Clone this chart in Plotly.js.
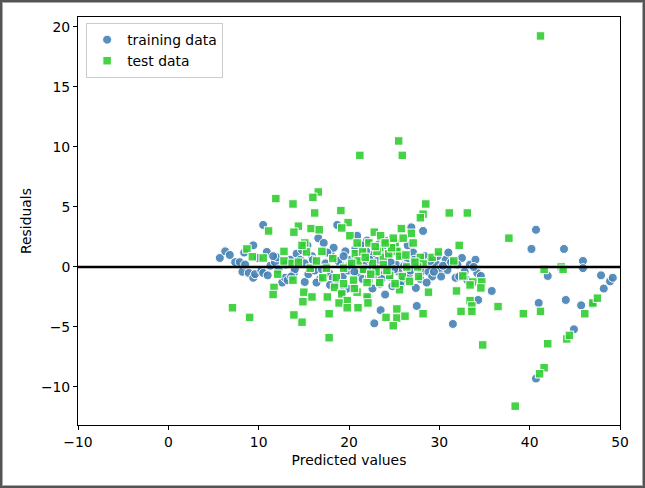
<!DOCTYPE html>
<html>
<head>
<meta charset="utf-8">
<script src="https://cdn.plot.ly/plotly-3.0.1.min.js"></script>
<style>
  html, body { margin: 0; padding: 0; background: #fff; }
  #wrap { position: relative; width: 645px; height: 488px; }
  #frame { position: absolute; left: 0; top: 0; width: 645px; height: 488px; box-sizing: border-box;
           border: 2px solid #555; outline: 1px solid #aaa; outline-offset: -3px; pointer-events: none; }
</style>
</head>
<body>
<div id="wrap">
  <div id="residplot" style="width:645px;height:488px;"></div>
  <div id="frame"></div>
</div>
<script>
// training data: predicted value, residual
var trainPred = [5.7,6.3,6.8,7.4,7.9,8.2,8.4,8.5,8.9,9.4,9.4,9.6,9.9,10.3,10.5,10.5,10.9,11.0,11.3,11.8,
  12.2,12.6,12.9,13.2,13.5,13.9,14.2,14.6,15.1,15.1,15.5,15.9,16.2,16.6,16.8,17.2,17.4,17.8,18.0,18.3,
  18.5,18.7,19.0,19.3,19.6,19.9,20.2,20.4,20.7,21.0,21.2,21.5,21.8,22.0,22.2,22.5,22.8,22.9,23.1,23.4,
  23.5,23.7,24.0,24.3,24.5,24.8,25.0,25.2,25.5,25.8,26.0,26.3,26.6,26.9,27.1,27.4,27.5,27.7,28.0,28.2,
  28.4,28.8,29.2,29.6,30.0,30.2,30.7,30.9,31.0,31.5,31.8,32.2,32.5,33.4,34.0,34.2,34.3,34.6,35.8,40.2,
  40.7,40.7,41.0,42.0,43.8,44.0,44.9,45.7,45.9,45.9,46.9,47.9,48.2,48.9,49.2,
  12.0,13.0,14.0,14.8,16.0,16.4,17.0,17.6,18.2,18.8,19.4,19.8,20.0,20.6,21.4,21.6,22.3,22.6,23.0,23.3,
  23.9,24.2,24.6,25.0,25.4,25.7,26.1,26.5,26.8,27.2,27.9,28.6,29.0,29.4,29.8,30.4,31.3,32.0,32.8,33.1,
  33.8,22.1,24.0,19.2,17.9,15.4,13.6,11.6,21.9,23.6,20.9];
var trainResid = [0.75,1.3,1.0,0.4,0.4,-0.4,1.2,0.2,-0.5,1.8,-0.9,-0.6,0.75,-0.3,3.5,-0.5,1.25,-0.7,0.1,0.4,
  -0.2,-1.3,-0.9,-1.1,0.6,-0.5,1.1,0.6,-1.25,0.3,-0.6,0.9,-0.3,2.4,-1.0,2.0,0.3,-0.5,1.0,1.6,
  -1.4,3.5,0.2,-0.8,1.3,-0.3,0.6,-1.6,1.5,-0.5,0.9,-1.0,0.3,2.2,-0.3,1.0,-4.7,-0.7,0.5,-1.4,
  -3.6,1.4,-0.1,0.8,-0.8,-1.6,1.8,0.2,-0.4,1.0,-1.1,0.5,-0.7,3.3,1.2,-1.75,-3.25,0.2,-0.4,3.0,
  0.9,-0.4,-0.8,0.3,-0.2,-0.8,0.6,-0.25,1.2,-4.75,-0.9,-0.8,0.75,0.2,0.6,-0.5,-2.75,-0.75,-2.0,1.5,
  3.1,-9.3,-3.0,-0.75,1.5,-2.75,-5.2,-3.2,0.5,-0.1,-3.1,-0.7,-1.8,-1.2,-0.9,
  0.8,0.2,-0.2,1.4,0.6,-1.3,-0.2,1.2,-0.9,0.5,0.9,-1.8,0.1,-0.4,1.8,-0.2,0.6,-1.8,-0.1,1.9,
  -0.6,2.1,0.4,-0.2,1.3,-1.5,0.1,1.8,-0.3,0.6,-1.0,-1.3,0.5,-0.4,0.9,0.1,0.4,0.2,-0.4,-1.1,
  0.0,-2.6,-2.3,-2.1,-1.5,1.8,-0.8,0.9,1.3,-1.0,2.6];

// test data: predicted value, residual
var testPred = [41.2,25.5,25.9,21.2,16.6,16.0,11.9,13.8,28.5,16.2,19.1,31.1,33.1,28.2,27.9,37.7,32.2,19.9,19.2,20.1,
  15.8,16.7,22.8,25.8,26.9,14.4,11.1,13.9,15.1,15.3,17.0,20.9,22.2,23.4,25.1,27.1,25.3,18.2,20.7,21.5,
  23.8,27.9,29.2,29.9,31.6,28.2,8.7,9.3,10.5,12.8,12.8,13.7,14.4,14.8,15.7,17.5,19.4,21.6,23.8,26.4,
  27.6,12.1,13.8,17.1,18.6,20.5,22.2,24.5,25.9,27.7,32.6,41.6,43.5,43.7,11.7,11.6,15.0,14.9,18.4,19.4,
  22.0,23.4,20.9,15.9,17.6,19.2,19.8,18.9,22.0,22.1,21.0,19.8,25.6,28.8,31.9,33.7,34.7,34.6,33.4,33.4,
  33.6,32.4,33.6,36.5,39.3,41.2,28.2,17.8,14.8,13.9,25.3,24.1,25.3,26.2,24.9,17.8,7.1,9.0,34.8,42.0,
  44.1,44.4,41.6,41.1,38.4,46.1,47.0,47.5,21.0,22.6,24.4,26.0,24.9,23.0,20.3,16.4,
  23.1,23.9,24.7,25.6,26.3,22.4,21.8,24.2,25.1,26.7,23.5,22.9,27.3,20.6,24.0];
var testResid = [19.25,10.5,9.3,9.3,6.25,5.8,5.7,5.25,5.25,4.5,4.7,4.5,4.5,4.4,4.1,2.4,1.8,3.7,3.25,2.6,
  3.2,3.1,2.9,3.2,2.8,3.4,3.0,2.9,2.0,1.25,1.3,2.0,2.0,1.6,2.0,2.0,1.3,0.7,1.1,1.25,
  0.8,0.8,0.8,1.25,0.5,0.25,1.5,0.85,0.75,1.3,0.5,0.3,0.4,1.8,-0.1,-0.1,-0.1,-0.2,0.2,0.0,
  0.0,-0.6,-1.1,-0.9,-0.9,-1.1,-1.0,-0.7,-0.8,-0.8,-0.75,-0.2,0.0,-0.2,-1.7,-2.3,-2.1,-2.9,-1.7,-1.4,
  -1.3,-1.3,-2.1,-2.5,-2.5,-2.25,-2.8,-3.0,-2.5,-3.0,-3.4,-3.4,-1.9,-2.1,-2.0,-1.25,-1.25,-1.75,-1.5,-2.8,
  -3.25,-3.7,-3.7,-3.3,-3.9,-3.7,-3.9,-3.9,-4.6,-4.0,-3.5,-4.2,-4.25,-4.1,-4.9,-5.9,-3.4,-4.2,-6.5,-6.4,
  -6.0,-5.7,-8.4,-8.9,-11.6,-3.9,-3.0,-2.6,0.5,0.3,1.1,2.4,2.4,-0.4,0.3,0.5,
  1.3,2.2,1.6,0.9,1.0,-0.6,0.8,-0.3,-1.4,-1.2,2.6,1.7,0.4,-1.8,2.0];

var tickFont = { family: 'DejaVu Sans', size: 13.9, color: '#000' };

var data = [
  {
    x: trainPred, y: trainResid,
    mode: 'markers', type: 'scatter', name: 'training data',
    marker: { symbol: 'circle', size: 9, color: 'rgba(70,130,180,0.9)', line: { color: '#fff', width: 1 } }
  },
  {
    x: testPred, y: testResid,
    mode: 'markers', type: 'scatter', name: 'test data',
    marker: { symbol: 'square', size: 8.5, color: 'rgba(50,205,50,0.9)', line: { color: '#fff', width: 1 } }
  }
];

var layout = {
  width: 645, height: 488,
  margin: { l: 78, r: 25, t: 17, b: 63 },
  paper_bgcolor: '#fff', plot_bgcolor: '#fff',
  font: tickFont,
  showlegend: true,
  legend: {
    x: 0.015, y: 0.985, xanchor: 'left', yanchor: 'top',
    bgcolor: 'rgba(255,255,255,0.8)', bordercolor: '#ccc', borderwidth: 1,
    font: tickFont, itemwidth: 30, tracegroupgap: 0
  },
  xaxis: {
    range: [-10, 50], dtick: 10, tick0: 0,
    showgrid: false, zeroline: false,
    showline: true, linecolor: '#000', linewidth: 1, mirror: true,
    ticks: 'outside', ticklen: 4, tickcolor: '#000',
    tickfont: tickFont,
    title: { text: 'Predicted values', font: tickFont, standoff: 6 }
  },
  yaxis: {
    range: [-13.17, 20.83], dtick: 5, tick0: 0,
    showgrid: false, zeroline: false,
    showline: true, linecolor: '#000', linewidth: 1, mirror: true,
    ticks: 'outside', ticklen: 4, tickcolor: '#000',
    tickfont: tickFont,
    title: { text: 'Residuals', font: tickFont, standoff: 6 }
  },
  shapes: [
    { type: 'line', xref: 'paper', yref: 'y', x0: 0, x1: 1, y0: 0, y1: 0,
      line: { color: '#000', width: 2.5 } }
  ]
};

Plotly.newPlot('residplot', data, layout, { displayModeBar: false });
</script>
</body>
</html>
